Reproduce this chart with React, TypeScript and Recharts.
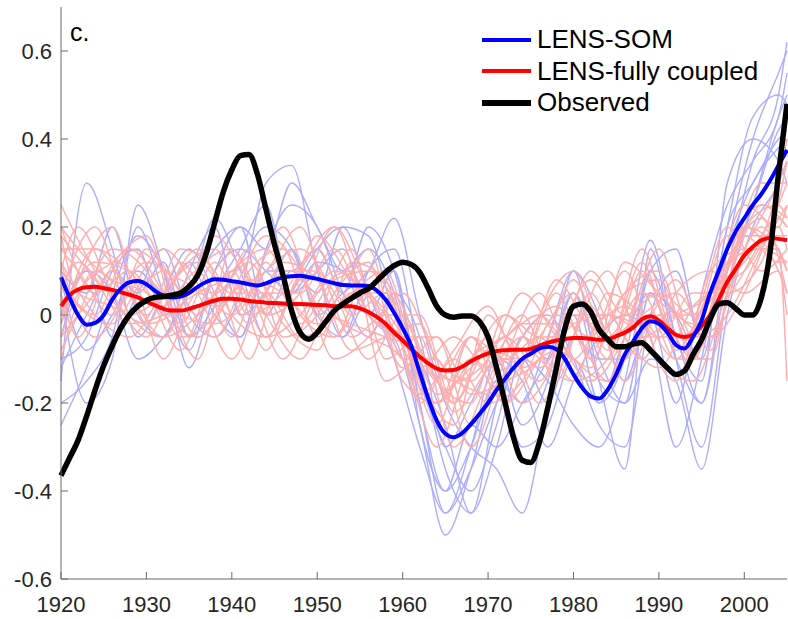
import { Line, LineChart, XAxis, YAxis } from 'recharts'

const years = [
  1920, 1921, 1922, 1923, 1924, 1925, 1926, 1927, 1928, 1929,
  1930, 1931, 1932, 1933, 1934, 1935, 1936, 1937, 1938, 1939,
  1940, 1941, 1942, 1943, 1944, 1945, 1946, 1947, 1948, 1949,
  1950, 1951, 1952, 1953, 1954, 1955, 1956, 1957, 1958, 1959,
  1960, 1961, 1962, 1963, 1964, 1965, 1966, 1967, 1968, 1969,
  1970, 1971, 1972, 1973, 1974, 1975, 1976, 1977, 1978, 1979,
  1980, 1981, 1982, 1983, 1984, 1985, 1986, 1987, 1988, 1989,
  1990, 1991, 1992, 1993, 1994, 1995, 1996, 1997, 1998, 1999,
  2000, 2001, 2002, 2003, 2004, 2005,
]

const observed = [
  -0.365, -0.325, -0.285, -0.23, -0.17, -0.115, -0.07, -0.03, 0.0, 0.02,
  0.033, 0.04, 0.042, 0.045, 0.05, 0.065, 0.09, 0.14, 0.21, 0.28,
  0.33, 0.362, 0.365, 0.32, 0.24, 0.16, 0.09, 0.01, -0.04, -0.055,
  -0.04, -0.015, 0.01, 0.025, 0.038, 0.05, 0.06, 0.078, 0.097, 0.112,
  0.12, 0.115, 0.097, 0.06, 0.02, 0.0, -0.005, -0.002, -0.002, -0.015,
  -0.05, -0.12, -0.2, -0.28, -0.33, -0.335, -0.29, -0.21, -0.12, -0.03,
  0.02, 0.025, 0.008, -0.033, -0.055, -0.072, -0.072, -0.066, -0.063, -0.08,
  -0.1, -0.12, -0.135, -0.127, -0.09, -0.056, -0.01, 0.025, 0.028, 0.015,
  0.0, 0.0, 0.04, 0.14, 0.32, 0.48,
]

const lensSom = [
  0.086, 0.04, 0.0, -0.022, -0.018, 0.0, 0.035, 0.06, 0.074, 0.077,
  0.07, 0.055, 0.044, 0.04, 0.042, 0.05, 0.064, 0.075, 0.081, 0.08,
  0.077, 0.074, 0.07, 0.067, 0.072, 0.08, 0.085, 0.088, 0.089, 0.086,
  0.082, 0.077, 0.072, 0.068, 0.067, 0.067, 0.066, 0.055, 0.035, 0.005,
  -0.03, -0.07, -0.13, -0.19, -0.24, -0.27, -0.278, -0.268, -0.248, -0.225,
  -0.2, -0.17, -0.145, -0.12, -0.1, -0.088, -0.076, -0.072, -0.078, -0.1,
  -0.135, -0.165, -0.185, -0.19, -0.17, -0.135, -0.09, -0.06, -0.03, -0.014,
  -0.02, -0.04, -0.068, -0.076, -0.05, -0.012, 0.05, 0.1, 0.15, 0.19,
  0.22, 0.25, 0.275, 0.305, 0.34, 0.375,
]

const lensCoupled = [
  0.02, 0.045, 0.058, 0.063, 0.064, 0.061, 0.057, 0.052, 0.046, 0.04,
  0.03, 0.022, 0.014, 0.01, 0.01, 0.014, 0.02, 0.027, 0.033, 0.037,
  0.037, 0.035, 0.032, 0.03, 0.028, 0.027, 0.026, 0.025, 0.025, 0.024,
  0.023, 0.022, 0.02, 0.02, 0.02, 0.015, 0.007, -0.005, -0.02, -0.04,
  -0.058, -0.077, -0.095, -0.11, -0.122, -0.126, -0.125, -0.117, -0.105, -0.095,
  -0.087, -0.082, -0.08, -0.079, -0.079, -0.077, -0.07, -0.063, -0.058, -0.055,
  -0.052, -0.052, -0.054, -0.056, -0.055, -0.048, -0.04, -0.028, -0.01, -0.003,
  -0.012, -0.03, -0.045, -0.05, -0.045, -0.025, 0.0, 0.035, 0.075, 0.105,
  0.135, 0.155, 0.17, 0.175, 0.173, 0.17,
]

// LENS-SOM members (thin blue)
const blueYears = [
  1920, 1923, 1926, 1929, 1932, 1935, 1938, 1941, 1944, 1947,
  1950, 1953, 1956, 1959, 1962, 1965, 1968, 1971, 1974, 1977,
  1980, 1983, 1986, 1989, 1992, 1995, 1998, 2001, 2004, 2005,
]
const blueMembers = [
  [-0.25, -0.12, 0.05, 0.18, 0.1, -0.05, 0.1, 0.2, 0.15, 0.3, 0.2, 0.1, 0.15, 0.05, -0.2, -0.45, -0.35, -0.2, -0.1, -0.15, -0.25, -0.3, -0.15, 0.1, -0.05, -0.2, 0.1, 0.35, 0.5, 0.62],
  [-0.15, 0.3, 0.15, -0.05, 0.05, 0.15, 0.05, -0.05, 0.1, 0.1, 0.15, 0.05, 0.2, 0.1, -0.15, -0.3, -0.4, -0.25, -0.05, -0.1, 0.05, -0.1, -0.2, 0.05, 0.0, -0.1, 0.2, 0.3, 0.4, 0.42],
  [0.05, -0.2, -0.1, 0.25, 0.1, -0.12, 0.05, 0.15, 0.25, 0.05, 0.1, 0.15, 0.0, -0.05, -0.25, -0.5, -0.35, -0.15, -0.2, -0.05, 0.1, -0.15, -0.35, 0.15, -0.1, -0.3, 0.05, 0.25, 0.45, 0.5],
  [0.1, 0.05, 0.2, 0.0, -0.05, 0.1, 0.2, 0.0, 0.05, 0.15, 0.0, 0.05, 0.1, 0.22, 0.0, -0.2, -0.3, -0.35, -0.45, -0.2, 0.0, -0.2, -0.1, 0.17, -0.05, -0.15, 0.3, 0.4, 0.35, 0.3],
  [-0.1, -0.05, 0.1, 0.15, 0.0, 0.05, 0.22, 0.1, -0.05, 0.05, 0.15, 0.2, 0.05, -0.1, -0.3, -0.45, -0.3, -0.1, -0.15, -0.3, -0.15, -0.05, 0.0, -0.05, -0.3, -0.1, 0.2, 0.45, 0.5, 0.48],
  [0.0, 0.1, -0.05, 0.05, 0.15, 0.0, -0.05, 0.05, 0.3, 0.34, 0.1, -0.05, 0.1, 0.15, -0.1, -0.35, -0.45, -0.2, -0.05, 0.0, -0.1, -0.25, -0.3, 0.0, 0.1, -0.05, 0.15, 0.3, 0.38, 0.4],
  [-0.2, -0.15, -0.05, 0.2, 0.05, -0.08, 0.1, 0.15, 0.1, 0.05, 0.12, 0.1, 0.0, 0.1, -0.2, -0.4, -0.25, -0.3, -0.2, -0.1, 0.05, -0.15, -0.2, -0.1, -0.15, -0.35, 0.0, 0.2, 0.3, 0.35],
  [0.08, -0.08, 0.0, 0.1, 0.05, 0.12, 0.0, -0.05, 0.15, 0.25, 0.2, 0.05, -0.05, 0.05, -0.05, -0.3, -0.2, -0.1, -0.25, -0.15, 0.1, 0.0, -0.15, 0.0, -0.2, 0.05, 0.25, 0.35, 0.45, 0.55],
  [-0.05, 0.1, 0.05, -0.1, -0.05, 0.05, 0.15, 0.2, 0.0, 0.1, 0.05, 0.2, 0.18, 0.0, -0.1, -0.25, -0.45, -0.3, -0.1, -0.2, -0.05, -0.1, -0.1, 0.1, 0.15, -0.05, 0.1, 0.25, 0.42, 0.45],
  [-0.12, 0.0, 0.1, 0.05, 0.12, -0.05, 0.02, 0.12, 0.2, 0.15, 0.0, -0.05, 0.05, 0.1, -0.25, -0.4, -0.3, -0.15, -0.3, -0.25, -0.1, -0.2, -0.05, 0.05, -0.1, -0.2, 0.15, 0.4, 0.55, 0.6],
]

// LENS fully coupled members (thin red), two sampling grids
const redYearsA = [
  1920, 1924, 1928, 1932, 1936, 1940, 1944, 1948, 1952, 1956, 1960, 1964,
  1968, 1972, 1976, 1980, 1984, 1988, 1992, 1996, 2000, 2004, 2005,
]
const redMembersA = [
  [0.25, 0.1, 0.0, 0.05, 0.15, 0.0, -0.05, 0.1, 0.2, 0.05, -0.1, -0.2, -0.05, -0.15, -0.05, 0.05, -0.1, 0.1, -0.05, 0.0, 0.2, 0.25, 0.22],
  [0.15, 0.15, 0.05, -0.05, 0.0, 0.1, 0.15, 0.0, -0.05, 0.1, 0.0, -0.15, -0.2, 0.0, -0.1, -0.15, 0.05, 0.0, -0.1, 0.05, 0.1, 0.2, 0.15],
  [-0.05, 0.05, 0.15, 0.1, -0.05, 0.05, 0.1, 0.2, 0.0, -0.05, -0.1, -0.3, -0.1, -0.05, 0.0, -0.1, -0.15, 0.05, 0.0, -0.05, 0.15, 0.3, 0.35],
  [0.1, -0.05, 0.05, 0.15, 0.05, -0.1, 0.05, 0.05, 0.15, 0.0, -0.05, -0.05, -0.25, -0.1, -0.15, 0.0, 0.0, -0.1, 0.05, 0.1, 0.05, 0.1, 0.0],
  [0.05, 0.2, 0.0, -0.05, 0.1, 0.15, 0.0, -0.1, 0.05, 0.12, -0.15, -0.2, -0.1, -0.2, 0.0, 0.1, -0.05, 0.05, -0.1, -0.1, 0.2, 0.15, 0.1],
  [0.2, 0.05, 0.1, 0.0, -0.05, 0.05, 0.18, 0.1, -0.1, -0.05, 0.05, -0.1, -0.15, -0.05, -0.2, -0.05, 0.1, -0.05, 0.0, 0.05, 0.25, 0.2, 0.25],
  [-0.1, 0.1, 0.05, 0.1, 0.0, 0.1, -0.05, 0.0, 0.1, 0.05, -0.05, -0.25, -0.05, -0.1, -0.05, -0.15, -0.1, 0.15, -0.05, 0.0, 0.1, 0.3, 0.4],
  [0.12, 0.0, -0.05, 0.05, 0.12, 0.05, 0.05, -0.05, 0.0, 0.15, -0.1, -0.1, -0.3, -0.1, 0.05, -0.1, 0.0, -0.05, -0.15, 0.1, 0.15, 0.15, -0.15],
  [0.0, 0.12, 0.1, -0.1, 0.05, 0.0, 0.1, 0.15, 0.05, -0.1, 0.0, -0.15, -0.05, -0.2, -0.1, 0.0, -0.05, 0.0, 0.05, -0.05, 0.05, 0.25, 0.3],
  [0.08, 0.0, 0.15, 0.05, -0.1, 0.15, 0.0, 0.05, 0.2, 0.0, -0.05, -0.2, -0.1, 0.0, -0.05, -0.05, -0.15, -0.05, -0.05, 0.0, 0.2, 0.1, 0.05],
  [0.18, 0.08, -0.02, 0.0, 0.05, 0.08, -0.08, 0.08, -0.05, 0.05, -0.12, -0.05, -0.18, -0.15, -0.1, 0.08, -0.08, 0.12, -0.08, 0.05, 0.12, 0.22, 0.2],
  [-0.02, 0.15, 0.1, 0.02, 0.1, -0.05, 0.12, -0.02, 0.08, 0.1, 0.02, -0.18, -0.12, -0.05, -0.12, -0.02, 0.0, -0.02, 0.08, -0.08, 0.18, 0.12, 0.12],
]
const redYearsB = [
  1920, 1922, 1926, 1930, 1934, 1938, 1942, 1946, 1950, 1954, 1958, 1962,
  1966, 1970, 1974, 1978, 1982, 1986, 1990, 1994, 1998, 2002, 2005,
]
const redMembersB = [
  [0.1, 0.2, 0.05, -0.05, 0.1, 0.15, 0.0, 0.05, 0.15, 0.0, 0.05, -0.15, -0.25, 0.0, -0.1, 0.05, -0.1, 0.05, 0.1, -0.1, 0.15, 0.25, 0.2],
  [-0.08, 0.0, 0.15, 0.1, -0.05, 0.0, 0.15, -0.05, 0.0, 0.15, -0.1, -0.05, -0.3, -0.15, 0.0, -0.15, 0.05, -0.1, 0.0, 0.0, 0.1, 0.3, 0.3],
  [0.15, 0.1, 0.0, 0.15, 0.05, -0.05, 0.1, 0.15, -0.05, 0.05, 0.05, -0.2, -0.1, -0.2, -0.15, 0.0, -0.05, 0.1, -0.1, -0.15, 0.05, 0.2, 0.1],
  [0.05, -0.05, 0.1, 0.0, 0.15, 0.1, -0.1, 0.1, 0.1, -0.05, 0.0, 0.0, -0.2, -0.05, -0.2, -0.1, 0.1, 0.0, 0.05, 0.0, 0.2, 0.1, 0.15],
  [0.2, 0.15, 0.08, 0.05, -0.08, 0.08, 0.05, -0.1, 0.05, 0.1, -0.15, -0.1, -0.15, -0.1, 0.05, -0.05, -0.15, -0.05, 0.15, -0.05, 0.0, 0.15, 0.25],
  [-0.02, 0.08, 0.2, -0.02, 0.02, 0.18, 0.08, 0.02, 0.18, 0.08, 0.0, -0.12, -0.05, -0.12, -0.05, -0.12, 0.02, -0.15, 0.0, -0.1, 0.12, 0.22, 0.05],
  [0.12, 0.02, -0.02, 0.08, 0.0, -0.02, 0.05, 0.2, 0.02, -0.02, -0.05, -0.08, -0.2, -0.08, -0.1, 0.08, -0.02, 0.02, -0.05, 0.05, 0.05, 0.12, 0.35],
  [0.06, 0.12, 0.05, 0.12, 0.08, 0.05, 0.12, -0.02, -0.08, 0.12, 0.08, -0.18, -0.08, 0.02, -0.12, -0.08, -0.12, 0.12, 0.05, -0.02, 0.18, 0.18, 0.18],
  [-0.05, 0.05, 0.12, 0.18, -0.02, 0.12, -0.02, 0.12, 0.08, -0.08, -0.05, -0.02, -0.22, -0.12, -0.02, -0.02, 0.08, -0.05, -0.12, 0.02, 0.08, 0.25, 0.22],
  [0.18, 0.05, 0.02, -0.02, 0.12, 0.02, 0.08, 0.05, -0.02, 0.05, 0.1, -0.12, -0.15, -0.18, -0.05, 0.02, -0.08, 0.05, 0.08, -0.08, 0.12, 0.15, 0.12],
]

const xTicks = [1920, 1930, 1940, 1950, 1960, 1970, 1980, 1990, 2000]
const yTicks = [-0.6, -0.4, -0.2, 0, 0.2, 0.4, 0.6]

const legendItems = [
  { label: 'LENS-SOM', color: '#0000ff', width: 4 },
  { label: 'LENS-fully coupled', color: '#ff0000', width: 4 },
  { label: 'Observed', color: '#000000', width: 6 },
]

const FONT = '"Liberation Sans", Arial, Helvetica, sans-serif'
const TEXT = '#262626'
const AXIS = '#6b6b6b'
const THIN_BLUE = '#abaeff'
const THIN_RED = '#ffadad'

function memberKey(group: string, i: number) {
  return `${group}${i}`
}

const rows = years.map((year, i) => {
  const row: Record<string, number | null> = {
    year,
    observed: observed[i],
    som: lensSom[i],
    coupled: lensCoupled[i],
  }
  blueMembers.forEach((m, k) => {
    const j = blueYears.indexOf(year)
    row[memberKey('b', k)] = j >= 0 ? m[j] : null
  })
  redMembersA.forEach((m, k) => {
    const j = redYearsA.indexOf(year)
    row[memberKey('ra', k)] = j >= 0 ? m[j] : null
  })
  redMembersB.forEach((m, k) => {
    const j = redYearsB.indexOf(year)
    row[memberKey('rb', k)] = j >= 0 ? m[j] : null
  })
  return row
})

const fmtY = (v: number) => (v === 0 ? '0' : String(v))

function BottomTick(props: any) {
  const { x, y, payload } = props
  return (
    <g>
      <line x1={x} x2={x} y1={y} y2={y - 7} stroke={AXIS} />
      <text x={x} y={y + 33} textAnchor="middle" fontSize={22} fontFamily={FONT} fill={TEXT}>
        {payload.value}
      </text>
    </g>
  )
}

function TopTick(props: any) {
  const { x, y } = props
  return <line x1={x} x2={x} y1={y} y2={y + 7} stroke={AXIS} />
}

function LeftTick(props: any) {
  const { x, y, payload } = props
  return (
    <g>
      <line x1={x + 9} x2={x + 16} y1={y} y2={y} stroke={AXIS} />
      <text x={x} y={y} dy={8} textAnchor="end" fontSize={22} fontFamily={FONT} fill={TEXT}>
        {fmtY(payload.value)}
      </text>
    </g>
  )
}

function RightTick(props: any) {
  const { x, y } = props
  return <line x1={x} x2={x - 7} y1={y} y2={y} stroke={AXIS} />
}

function thinLine(key: string, color: string) {
  return (
    <Line
      key={key}
      xAxisId="b"
      yAxisId="l"
      dataKey={key}
      type="monotone"
      stroke={color}
      strokeWidth={1.4}
      dot={false}
      connectNulls
      isAnimationActive={false}
    />
  )
}

export default function App() {
  return (
    <div style={{ position: 'absolute', left: 0, top: 0, width: 788, height: 619, background: '#fff' }}>
      <LineChart width={788} height={619} data={rows} margin={{ top: 7, right: 1, bottom: 0, left: 0 }}>
        <XAxis
          xAxisId="b"
          dataKey="year"
          type="number"
          domain={[1920, 2005]}
          ticks={xTicks}
          height={40}
          tickSize={0}
          tickMargin={0}
          tickLine={false}
          axisLine={{ stroke: AXIS }}
          tick={<BottomTick />}
        />
        <XAxis
          xAxisId="t"
          orientation="top"
          dataKey="year"
          type="number"
          domain={[1920, 2005]}
          ticks={xTicks}
          height={0}
          tickSize={0}
          tickMargin={0}
          tickLine={false}
          axisLine={{ stroke: AXIS }}
          tick={<TopTick />}
        />
        <YAxis
          yAxisId="l"
          type="number"
          domain={[-0.6, 0.7]}
          ticks={yTicks}
          width={61}
          tickSize={0}
          tickMargin={9}
          tickLine={false}
          axisLine={{ stroke: AXIS }}
          tick={<LeftTick />}
        />
        <YAxis
          yAxisId="r"
          orientation="right"
          type="number"
          domain={[-0.6, 0.7]}
          ticks={yTicks}
          width={0}
          tickSize={0}
          tickMargin={0}
          tickLine={false}
          axisLine={{ stroke: AXIS }}
          tick={<RightTick />}
        />
        {blueMembers.map((_, k) => thinLine(memberKey('b', k), THIN_BLUE))}
        {redMembersA.map((_, k) => thinLine(memberKey('ra', k), THIN_RED))}
        {redMembersB.map((_, k) => thinLine(memberKey('rb', k), THIN_RED))}
        <Line xAxisId="b" yAxisId="l" dataKey="coupled" type="monotone" stroke="#ff0000" strokeWidth={4} dot={false} isAnimationActive={false} />
        <Line xAxisId="b" yAxisId="l" dataKey="som" type="monotone" stroke="#0000ff" strokeWidth={4} dot={false} isAnimationActive={false} />
        <Line xAxisId="b" yAxisId="l" dataKey="observed" type="monotone" stroke="#000000" strokeWidth={5.5} dot={false} isAnimationActive={false} />
      </LineChart>

      <div style={{ position: 'absolute', left: 70, top: 18, fontFamily: FONT, fontSize: 25, color: '#000' }}>c.</div>

      <div style={{ position: 'absolute', left: 482, top: 24, fontFamily: FONT, fontSize: 26, color: '#000' }}>
        {legendItems.map((it) => (
          <div key={it.label} style={{ display: 'flex', alignItems: 'center', height: 31.5 }}>
            <div style={{ width: 49, height: it.width, background: it.color, marginRight: 6 }} />
            <span style={{ lineHeight: '31px' }}>{it.label}</span>
          </div>
        ))}
      </div>
    </div>
  )
}
